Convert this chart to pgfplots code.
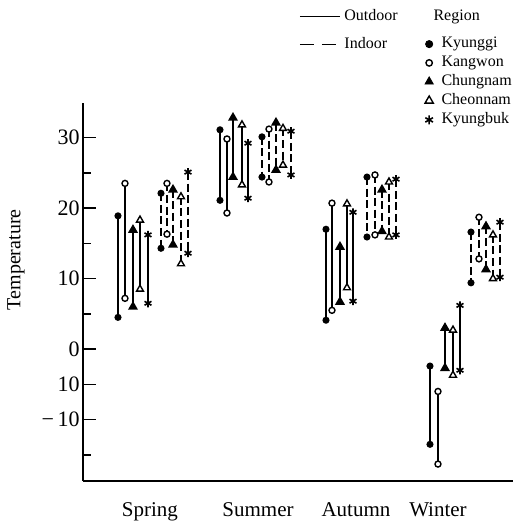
\documentclass[border=0pt]{standalone}
\usepackage{fontspec}
\setmainfont{Liberation Serif}
\usepackage{pgfplots}
\pgfplotsset{compat=1.18}
\pgfplotsset{
  lineleg/.style={legend image code/.code={\draw[##1] (0pt,0pt) -- (20pt,0pt);}},
  lineleggap/.style={legend image code/.code={\draw[##1] (0pt,0pt) -- (20pt,0pt); \path (0pt,-8pt);}},
  markleg/.style={legend image code/.code={\draw[##1] plot coordinates {(3pt,0pt)}; \path (0pt,0pt) (7pt,0pt);}},
  outd/.style={black, line width=0.9pt, solid},
  indo/.style={black, line width=0.9pt, dash pattern=on 4pt off 1.8pt},
  mKyunggi/.style={mark=*, mark size=1.3pt, mark options={solid, fill=black}},
  mKangwon/.style={mark=*, mark size=1.5pt, mark options={solid, fill=white, line width=0.7pt}},
  mChungnam/.style={mark=triangle*, mark size=2pt, mark options={solid, fill=black}},
  mCheonnam/.style={mark=triangle*, mark size=2pt, mark options={solid, fill=white, line width=0.7pt}},
  mKyungbuk/.style={mark=asterisk, mark size=2pt, mark options={solid, line width=0.8pt}},
}
\begin{document}
\begin{tikzpicture}
\begin{axis}[
  scale only axis, width=215pt, height=189pt,
  xmin=83, xmax=513, ymin=-18.7, ymax=34.9,
  axis lines*=left, axis line style={line width=0.9pt},
  clip=false,
  unbounded coords=jump,
  xtick={150,258,356,438}, xticklabels={Spring,Summer,Autumn,Winter},
  x tick style={draw=none},
  xticklabel style={font=\fontsize{10.5}{12}\selectfont, inner sep=0pt, anchor=north, yshift=-10.5pt},
  ytick={-10,-5,0,10,20,30}, yticklabels={{−\,10},10,0,10,20,30},
  minor ytick={-15,5,15,25},
  tick align=inside, major tick length=6.5pt, minor tick length=4pt,
  y tick style={line width=0.8pt, black},
  yticklabel style={font=\fontsize{11}{13}\selectfont, inner sep=0pt, xshift=-1.5pt},
  /pgf/number format/assume math mode=true,
  ylabel={Temperature},
  ylabel style={font=\fontsize{10}{12}\selectfont, inner sep=0pt, at={(axis description cs:-0.156,0.585)}, anchor=center},
  legend columns=2, legend cell align=left,
  legend style={draw=none, fill=none, inner sep=0pt,
    at={(rel axis cs:0.502,1.2513)}, anchor=north west,
    font=\fontsize{8}{9}\selectfont, column sep=1.5pt, row sep=1.5pt,
    nodes={inner xsep=0.5pt, inner ysep=0.5pt}},
]
% Outdoor
\addplot[outd, mKyunggi, forget plot] table[row sep=\\]{x y\\ 118 18.9\\ 118 4.5\\ nan nan\\ 220 31.1\\ 220 21.1\\ nan nan\\ 326 17.0\\ 326 4.1\\ nan nan\\ 430 -2.4\\ 430 -13.5\\};
\addplot[outd, mKangwon, forget plot] table[row sep=\\]{x y\\ 125 23.5\\ 125 7.2\\ nan nan\\ 227 29.8\\ 227 19.3\\ nan nan\\ 332 20.7\\ 332 5.5\\ nan nan\\ 438 -6.0\\ 438 -16.3\\};
\addplot[outd, mChungnam, forget plot] table[row sep=\\]{x y\\ 133 16.9\\ 133 6.0\\ nan nan\\ 233 32.8\\ 233 24.4\\ nan nan\\ 340 14.5\\ 340 6.7\\ nan nan\\ 445 3.0\\ 445 -2.7\\};
\addplot[outd, mCheonnam, forget plot] table[row sep=\\]{x y\\ 140 18.3\\ 140 8.5\\ nan nan\\ 242 31.8\\ 242 23.3\\ nan nan\\ 347 20.6\\ 347 8.7\\ nan nan\\ 453 2.7\\ 453 -3.7\\};
\addplot[outd, mKyungbuk, forget plot] table[row sep=\\]{x y\\ 148 16.2\\ 148 6.5\\ nan nan\\ 248 29.2\\ 248 21.4\\ nan nan\\ 353 19.4\\ 353 6.8\\ nan nan\\ 460 6.2\\ 460 -3.0\\};
% Indoor
\addplot[indo, mKyunggi, forget plot] table[row sep=\\]{x y\\ 161 22.1\\ 161 14.3\\ nan nan\\ 262 30.1\\ 262 24.4\\ nan nan\\ 367 24.4\\ 367 15.9\\ nan nan\\ 471 16.6\\ 471 9.4\\};
\addplot[indo, mKangwon, forget plot] table[row sep=\\]{x y\\ 167 23.5\\ 167 16.3\\ nan nan\\ 269 31.2\\ 269 23.7\\ nan nan\\ 375 24.7\\ 375 16.2\\ nan nan\\ 479 18.7\\ 479 12.8\\};
\addplot[indo, mChungnam, forget plot] table[row sep=\\]{x y\\ 173 22.6\\ 173 14.8\\ nan nan\\ 276 32.1\\ 276 25.4\\ nan nan\\ 382 22.6\\ 382 16.7\\ nan nan\\ 486 17.4\\ 486 11.3\\};
\addplot[indo, mCheonnam, forget plot] table[row sep=\\]{x y\\ 181 21.6\\ 181 12.1\\ nan nan\\ 283 31.3\\ 283 26.1\\ nan nan\\ 389 23.7\\ 389 15.9\\ nan nan\\ 493 16.2\\ 493 10.0\\};
\addplot[indo, mKyungbuk, forget plot] table[row sep=\\]{x y\\ 188 25.1\\ 188 13.6\\ nan nan\\ 291 30.9\\ 291 24.7\\ nan nan\\ 396 24.1\\ 396 16.2\\ nan nan\\ 500 18.0\\ 500 10.2\\};
% Legend
\addlegendimage{lineleggap, black, line width=0.6pt}
\addlegendentry{Outdoor\hspace*{10.5pt}}
\addlegendimage{empty legend}
\addlegendentry{\hspace*{-4pt}Region}
\addlegendimage{lineleg, black, line width=0.6pt, dash pattern=on 7pt off 4pt}
\addlegendentry{Indoor}
\addlegendimage{markleg, black, mKyunggi, mark size=1.8pt}
\addlegendentry{Kyunggi}
\addlegendimage{empty legend}
\addlegendentry{}
\addlegendimage{markleg, black, mKangwon, mark size=1.6pt}
\addlegendentry{Kangwon}
\addlegendimage{empty legend}
\addlegendentry{}
\addlegendimage{markleg, black, mChungnam, mark size=2.4pt}
\addlegendentry{Chungnam}
\addlegendimage{empty legend}
\addlegendentry{}
\addlegendimage{markleg, black, mCheonnam, mark size=2.4pt}
\addlegendentry{Cheonnam}
\addlegendimage{empty legend}
\addlegendentry{}
\addlegendimage{markleg, black, mKyungbuk, mark size=2.2pt}
\addlegendentry{Kyungbuk}
\path (rel axis cs:-0.193,-0.1164) rectangle (rel axis cs:1,1.2725);
\end{axis}
\end{tikzpicture}
\end{document}
